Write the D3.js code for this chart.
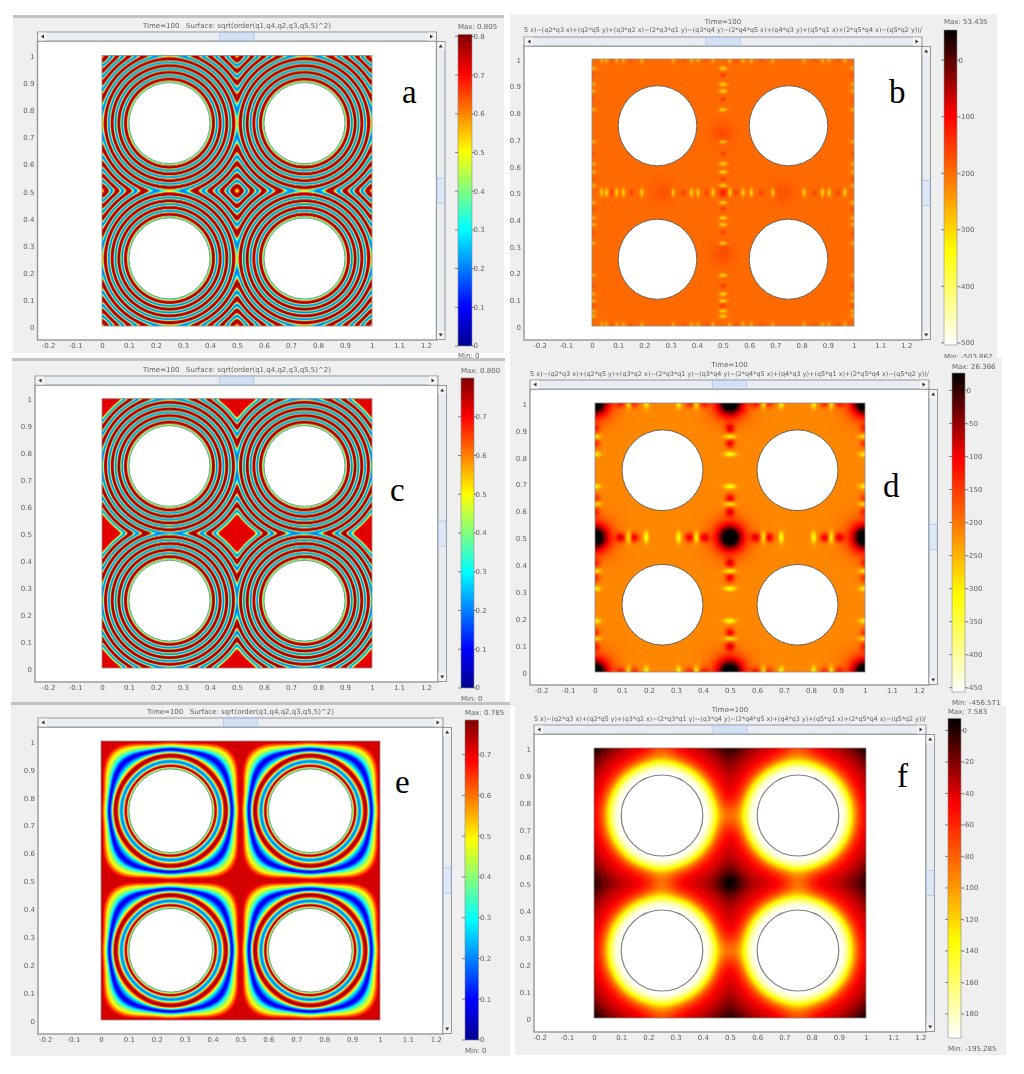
<!DOCTYPE html>
<html>
<head>
<meta charset="utf-8">
<title>Order parameter and free energy panels</title>
<script src="https://cdn.jsdelivr.net/npm/d3@7"></script>
<style>
  html, body { margin: 0; padding: 0; background: #fff; }
  svg { display: block; }
  text { font-family: "DejaVu Sans", sans-serif; fill: #5f5f5f; }
  .letter { font-family: "Liberation Serif", serif; font-size: 33px; fill: #000; }
  .domain { display: none; }
</style>
</head>
<body>
<div id="chart"></div>
<script>
var svgWidth = 1024;
var svgHeight = 1074;

// tick labels
var xTicks = [-0.2, -0.1, 0, 0.1, 0.2, 0.3, 0.4, 0.5, 0.6, 0.7, 0.8, 0.9, 1, 1.1, 1.2];
var yTicks = [0, 0.1, 0.2, 0.3, 0.4, 0.5, 0.6, 0.7, 0.8, 0.9, 1];
var barTicksA = [0, 0.1, 0.2, 0.3, 0.4, 0.5, 0.6, 0.7, 0.8];
var barTicksC = [0, 0.1, 0.2, 0.3, 0.4, 0.5, 0.6, 0.7];
var barTicksE = [0, 0.1, 0.2, 0.3, 0.4, 0.5, 0.6, 0.7];
var barTicksB = [0, -100, -200, -300, -400, -500];
var barTicksD = [0, -50, -100, -150, -200, -250, -300, -350, -400, -450];
var barTicksF = [0, -20, -40, -60, -80, -100, -120, -140, -160, -180];

// colour maps
var jetStops = [0, 0.125, 0.375, 0.625, 0.875, 1];
var jetColors = ["#00008f", "#0000ff", "#00ffff", "#ffff00", "#ff0000", "#800000"];
var hotStops = [0, 0.27, 0.7, 1];
var hotColors = ["#000000", "#ff0000", "#ffff00", "#ffffff"];

// the four holes
var holeCentres = [0.25, 0.75];
var mirrorCentres = [-0.25, 0.25, 0.75, 1.25];
var holeRadius = 0.15;

// one stripe period of the order parameter, peak to peak
var stripePhase = [0, 0.1, 0.2, 0.3, 0.4, 0.5, 0.6, 0.7, 0.8, 0.9, 1];
var stripeValue = [0.79, 0.77, 0.68, 0.42, 0.24, 0.19, 0.24, 0.42, 0.68, 0.77, 0.79];
var edgeRadius = [0.15, 0.155, 0.158, 0.163];
var edgeValue = [0.36, 0.38, 0.7, 0.79];
var firstPeakA = 0.163, periodA = 0.0247, softnessA = 130;
var firstPeakC = 0.163, periodC = 0.02455, softnessC = 200;
var lastTroughC = 0.298, flatStartC = 0.308, flatValueC = 0.72;

// panel e, ring profile on the axis through a hole centre
var radiusE = [0.148, 0.154, 0.157, 0.161, 0.166, 0.171, 0.177, 0.182, 0.188, 0.194, 0.2, 0.205, 0.211, 0.218, 0.223, 0.227, 0.231, 0.236, 0.241, 0.248];
var valueE = [0.36, 0.38, 0.66, 0.77, 0.6, 0.27, 0.18, 0.27, 0.58, 0.73, 0.78, 0.62, 0.3, 0.07, 0.12, 0.26, 0.4, 0.5, 0.6, 0.72];
// same rings measured on the diagonal, they bulge into rounded squares
var axisKnotsE = [0.15, 0.2, 0.205, 0.211, 0.218, 0.223, 0.227, 0.236, 0.248, 0.3];
var diagKnotsE = [0.15, 0.198, 0.205, 0.218, 0.238, 0.247, 0.256, 0.282, 0.305, 0.36];

// panel f, distance from hole centre -> free energy
var radiusF = [0.15, 0.165, 0.18, 0.193, 0.205, 0.215, 0.23, 0.25, 0.28, 0.32, 0.3536];
var valueF = [-195, -190, -170, -140, -110, -85, -62, -45, -34, -14, 7];
var gapSpotsF = [[0.5, 0.75, -30, 0.035], [0.5, 0.25, -30, 0.035], [0.25, 0.5, -30, 0.035], [0.75, 0.5, -30, 0.035],
  [0.25, 1, -25, 0.04], [0.75, 1, -25, 0.04], [0.25, 0, -25, 0.04], [0.75, 0, -25, 0.04], [0.5, 0.5, 14, 0.03]];

// panel d, spots along the mid lines and the outer edges
var baseD = -214;
var yellowD = [0.125, 0.19, 0.31, 0.375, 0.625, 0.69, 0.81, 0.875];
var redD = [0.095, 0.145, 0.35, 0.405, 0.595, 0.645, 0.85, 0.905];
var junctionsD = [0, 0.5, 1];

// panel b, smaller speckles along the same lines
var baseB = -197;
var specklesB = [0.037, 0.056, 0.075, 0.094, 0.12, 0.15, 0.19, 0.31, 0.35, 0.38, 0.405, 0.437, 0.462,
  0.526, 0.55, 0.577, 0.608, 0.646, 0.69, 0.81, 0.85, 0.88, 0.905, 0.94, 0.965];
var gapSpotsB = [[0.5, 0.72, 28, 0.03], [0.5, 0.27, 28, 0.03], [0.27, 0.5, 22, 0.03], [0.73, 0.5, 22, 0.03], [0.5, 0.5, 70, 0.012]];

var orderTitle = "Time=100   Surface: sqrt(order(q1,q4,q2,q3,q5,5)^2)";
var energyTitle = "5 x)−(q2*q3 x)+(q2*q5 y)+(q3*q2 x)−(2*q3*q1 y)−(q3*q4 y)−(2*q4*q5 x)+(q4*q3 y)+(q5*q1 x)+(2*q5*q4 x)−(q5*q2 y))/";

var svg = d3.select("#chart").append("svg")
  .attr("width", svgWidth)
  .attr("height", svgHeight);

var defs = svg.append("defs");
defs.append("filter").attr("id", "soft").append("feGaussianBlur").attr("stdDeviation", 0.55);
defs.append("filter").attr("id", "stripes").append("feGaussianBlur").attr("stdDeviation", 0.5);
defs.append("filter").attr("id", "softText").append("feGaussianBlur").attr("stdDeviation", 0.22);

// nearest hole distance, rounded where two holes meet
function softDistance(x, y, centres, k) {
  var rs = [];
  var rMin = Infinity;
  centres.forEach(function(cx) {
    centres.forEach(function(cy) {
      var r = Math.hypot(x - cx, y - cy);
      rs.push(r);
      if (r < rMin) rMin = r;
    });
  });
  var sum = 0;
  rs.forEach(function(r) { sum += Math.exp(-k * (r - rMin)); });
  return { hard: rMin, soft: rMin - Math.log(sum) / k };
}

function stripeField(firstPeak, period, softness, lastTrough, flatStart, flatValue) {
  var stripe = d3.scaleLinear().domain(stripePhase).range(stripeValue);
  var edge = d3.scaleLinear().domain(edgeRadius).range(edgeValue);
  var tail = lastTrough ? d3.scaleLinear().domain([lastTrough, flatStart]).range([0.19, flatValue]).clamp(true) : null;
  return function(x, y) {
    var d = softDistance(x, y, mirrorCentres, softness);
    if (d.hard < holeRadius) return null;
    if (d.soft < firstPeak) return edge(d.soft);
    if (tail && d.soft > lastTrough) return tail(d.soft);
    var phase = ((d.soft - firstPeak) / period) % 1;
    return stripe(phase);
  };
}

function ringFieldE() {
  var profile = d3.scaleLinear().domain(radiusE).range(valueE).clamp(true);
  return function(x, y) {
    var dx = Math.abs(x - (x < 0.5 ? 0.25 : 0.75));
    var dy = Math.abs(y - (y < 0.5 ? 0.25 : 0.75));
    var r = Math.hypot(dx, dy);
    if (r < holeRadius) return null;
    // how far this direction is from the axis towards the diagonal
    var c = dx / r, s = dy / r;
    var w = Math.pow((1 - Math.pow(c * c * c * c + s * s * s * s, 0.25)) / 0.159, 1.5);
    var prev = axisKnotsE[0] + (diagKnotsE[0] - axisKnotsE[0]) * w;
    for (var i = 1; i < axisKnotsE.length; i++) {
      var next = axisKnotsE[i] + (diagKnotsE[i] - axisKnotsE[i]) * w;
      if (r <= next) {
        var t = (r - prev) / (next - prev);
        return profile(axisKnotsE[i - 1] + t * (axisKnotsE[i] - axisKnotsE[i - 1]));
      }
      prev = next;
    }
    return profile(1);
  };
}

function ringFieldF() {
  var profile = d3.scaleLinear().domain(radiusF).range(valueF).clamp(true);
  return function(x, y) {
    var d = softDistance(x, y, holeCentres, 60);
    if (d.hard < holeRadius) return null;
    var v = profile(d.soft);
    gapSpotsF.forEach(function(p) {
      var dd = (x - p[0]) * (x - p[0]) + (y - p[1]) * (y - p[1]);
      v += p[2] * Math.exp(-dd / (2 * p[3] * p[3]));
    });
    return v;
  };
}

// spots sit on a line, sa along it and sc across it
function lineSpots(positions, lines, amp, sa, sc, edgeFactor) {
  var out = [];
  lines.forEach(function(l) {
    var a = l === 0.5 ? amp : amp * edgeFactor;
    positions.forEach(function(p) {
      out.push({ x: p, y: l, a: a, sx: sa, sy: sc });
      out.push({ x: l, y: p, a: a, sx: sc, sy: sa });
    });
  });
  return out;
}

function spotField(base, spots) {
  return function(x, y) {
    var rMin = Infinity;
    holeCentres.forEach(function(cx) {
      holeCentres.forEach(function(cy) {
        rMin = Math.min(rMin, Math.hypot(x - cx, y - cy));
      });
    });
    if (rMin < holeRadius) return null;
    var v = base;
    for (var i = 0; i < spots.length; i++) {
      var s = spots[i];
      var ex = (x - s.x) / s.sx, ey = (y - s.y) / s.sy;
      if (Math.abs(ex) > 4 || Math.abs(ey) > 4) continue;
      v += s.a * Math.exp(-0.5 * (ex * ex + ey * ey));
    }
    return v;
  };
}

var edgeLines = [0, 0.5, 1];
var spotsD = lineSpots(yellowD, edgeLines, -110, 0.0065, 0.015, 0.9)
  .concat(lineSpots(redD, edgeLines, 115, 0.012, 0.012, 0.7));
junctionsD.forEach(function(a) {
  junctionsD.forEach(function(b) {
    spotsD.push({ x: a, y: b, a: 250, sx: 0.034, sy: 0.034 });
    spotsD.push({ x: a, y: b, a: 45, sx: 0.06, sy: 0.06 });
  });
});

var spotsB = lineSpots(specklesB.filter(function(d, i) { return i % 3 !== 2; }), edgeLines, -105, 0.0048, 0.01, 0.75)
  .concat(lineSpots(specklesB.filter(function(d, i) { return i % 3 === 2; }), edgeLines, 45, 0.006, 0.007, 0.7));
gapSpotsB.forEach(function(p) {
  spotsB.push({ x: p[0], y: p[1], a: p[2], sx: p[3], sy: p[3] });
});

var panels = [
  { letter: "a", letterPos: [402, 103], bg: [13, 15, 504, 353], topLine: true,
    plot: [102, 372, 326, 55.5], frame: [37.5, 436.5, 41, 340], titleY: [28], titleX: [143, 331],
    bar: [458, 472, 346, 34.5], range: [0, 0.805], barTicks: barTicksA, maxText: "Max: 0.805", minText: "Min: 0", maxY: 29, minY: 358,
    map: "jet", blur: "stripes", title: orderTitle, field: stripeField(firstPeakA, periodA, softnessA) },
  { letter: "b", letterPos: [889, 103], bg: [510, 14, 997, 360], topLine: false,
    plot: [592, 854, 326, 59], frame: [524, 922, 46, 340], titleY: [24, 32], titleX: [524, 922],
    bar: [944, 957, 345, 30], range: [-503.862, 53.435], barTicks: barTicksB, maxText: "Max: 53.435", minText: "Min: -503.862", maxY: 24, minY: 359,
    map: "hot", blur: "soft", title: energyTitle, field: spotField(baseB, spotsB) },
  { letter: "c", letterPos: [390, 501], bg: [12, 358, 505, 702], topLine: true,
    plot: [102, 372, 668, 398.7], frame: [35, 438, 385, 682], titleY: [372], titleX: [143, 331],
    bar: [461, 474, 688, 378], range: [0, 0.8], barTicks: barTicksC, maxText: "Max: 0.800", minText: "Min: 0", maxY: 373, minY: 701,
    map: "jet", blur: "stripes", title: orderTitle, field: stripeField(firstPeakC, periodC, softnessC, lastTroughC, flatStartC, flatValueC) },
  { letter: "d", letterPos: [883, 497], bg: [510, 358, 1002, 706], topLine: false,
    plot: [595, 865, 672, 403], frame: [530, 929, 389, 685], titleY: [367, 376], titleX: [530, 929],
    bar: [952, 965, 692, 373], range: [-456.571, 26.366], barTicks: barTicksD, maxText: "Max: 26.366", minText: "Min: -456.571", maxY: 369, minY: 705,
    map: "hot", blur: "soft", title: energyTitle, field: spotField(baseD, spotsD) },
  { letter: "e", letterPos: [395, 793], bg: [11, 702, 510, 1056], topLine: true,
    plot: [101, 380, 1020, 741], frame: [38, 443, 727, 1034], titleY: [714], titleX: [147, 334],
    bar: [465, 478.5, 1040, 720], range: [0, 0.785], barTicks: barTicksE, maxText: "Max: 0.785", minText: "Min: 0", maxY: 715, minY: 1053,
    map: "jet", blur: "soft", title: orderTitle, field: ringFieldE() },
  { letter: "f", letterPos: [897, 787], bg: [515, 706, 1006, 1055], topLine: false,
    plot: [594, 866, 1018, 748], frame: [534, 926, 734, 1032], titleY: [712, 721], titleX: [534, 926],
    bar: [948, 961, 1038, 718.5], range: [-195.285, 7.583], barTicks: barTicksF, maxText: "Max: 7.583", minText: "Min: -195.285", maxY: 714, minY: 1051,
    map: "hot", blur: "soft", title: energyTitle, field: ringFieldF() }
];

// lookup table so each pixel does not parse a colour string
function makeLut(stops, colors) {
  var scale = d3.scaleLinear().domain(stops).range(colors).clamp(true);
  return d3.range(1024).map(function(i) {
    var c = d3.rgb(scale(i / 1023));
    return [c.r, c.g, c.b];
  });
}
var jetLut = makeLut(jetStops, jetColors);
var hotLut = makeLut(hotStops, hotColors);

function fieldImage(p, xScale, yScale) {
  var res = 2;
  var w = Math.round((p.plot[1] - p.plot[0]) * res);
  var h = Math.round((p.plot[2] - p.plot[3]) * res);
  var canvas = document.createElement("canvas");
  canvas.width = w;
  canvas.height = h;
  var ctx = canvas.getContext("2d");
  var img = ctx.createImageData(w, h);
  var lut = p.map === "jet" ? jetLut : hotLut;
  // jet runs upward, the hot map has black at the maximum
  var frac = p.map === "jet"
    ? d3.scaleLinear().domain(p.range).range([0, 1]).clamp(true)
    : d3.scaleLinear().domain(p.range).range([1, 0]).clamp(true);
  for (var j = 0; j < h; j++) {
    var y = yScale.invert(p.plot[3] + (j + 0.5) / res);
    for (var i = 0; i < w; i++) {
      var x = xScale.invert(p.plot[0] + (i + 0.5) / res);
      var v = p.field(x, y);
      var k = 4 * (j * w + i);
      if (v === null) {
        img.data[k] = img.data[k + 1] = img.data[k + 2] = 255;
      } else {
        var c = lut[Math.round(frac(v) * 1023)];
        img.data[k] = c[0];
        img.data[k + 1] = c[1];
        img.data[k + 2] = c[2];
      }
      img.data[k + 3] = 255;
    }
  }
  ctx.putImageData(img, 0, 0);
  return canvas.toDataURL("image/png");
}

function drawScrollBars(g, p) {
  var f = p.frame;
  var barColor = "#8f979f";
  // top bar
  g.append("rect").attr("x", f[0]).attr("y", f[2] - 9).attr("width", f[1] - f[0]).attr("height", 9)
    .attr("fill", "#e9edf2").attr("stroke", barColor).attr("stroke-width", 1);
  var mid = (f[0] + f[1]) / 2;
  g.append("rect").attr("x", mid - 17).attr("y", f[2] - 8.5).attr("width", 34).attr("height", 8)
    .attr("fill", "#d4e0f3").attr("stroke", "#a9bede").attr("stroke-width", 0.7);
  [f[0] + 5, f[1] - 5].forEach(function(x, i) {
    g.append("rect").attr("x", x - 4).attr("y", f[2] - 8.5).attr("width", 8).attr("height", 8).attr("fill", "#f5f5f5");
    var d = i === 0 ? -1 : 1;
    g.append("path")
      .attr("d", d3.line()([[x + d * 1.5, f[2] - 4.5], [x - d * 1.5, f[2] - 6.5], [x - d * 1.5, f[2] - 2.5]]))
      .attr("fill", "#333");
  });
  // right bar
  g.append("rect").attr("x", f[1]).attr("y", f[2] + 0.5).attr("width", 8.5).attr("height", f[3] - f[2] - 1)
    .attr("fill", "#e9edf2").attr("stroke", barColor).attr("stroke-width", 1);
  var midY = (f[2] + f[3]) / 2;
  g.append("rect").attr("x", f[1] + 0.5).attr("y", midY - 12.5).attr("width", 7.5).attr("height", 25)
    .attr("fill", "#dde7f6").attr("stroke", "#a9bede").attr("stroke-width", 0.7);
  [f[2] + 5, f[3] - 5].forEach(function(y, i) {
    g.append("rect").attr("x", f[1] + 0.5).attr("y", y - 4).attr("width", 7.5).attr("height", 8).attr("fill", "#f5f5f5");
    var d = i === 0 ? -1 : 1;
    g.append("path")
      .attr("d", d3.line()([[f[1] + 4.2, y + d * 1.5], [f[1] + 2.2, y - d * 1.5], [f[1] + 6.2, y - d * 1.5]]))
      .attr("fill", "#333");
  });
}

function drawColorBar(g, p) {
  var b = p.bar;
  var gid = "grad-" + p.letter;
  // bottom of the bar is offset 0
  var grad = defs.append("linearGradient").attr("id", gid)
    .attr("x1", 0).attr("x2", 0).attr("y1", 1).attr("y2", 0);
  if (p.map === "jet") {
    jetStops.forEach(function(s, i) {
      grad.append("stop").attr("offset", s).attr("stop-color", jetColors[i]);
    });
  } else {
    // hot map: white at the minimum, black at the maximum
    d3.range(hotStops.length - 1, -1, -1).forEach(function(i) {
      grad.append("stop").attr("offset", 1 - hotStops[i]).attr("stop-color", hotColors[i]);
    });
  }
  g.append("rect").attr("x", b[0]).attr("y", b[3]).attr("width", b[1] - b[0]).attr("height", b[2] - b[3])
    .attr("fill", "url(#" + gid + ")").attr("stroke", "#888").attr("stroke-width", 0.6);

  var barScale = d3.scaleLinear().domain(p.range).range([b[2], b[3]]);
  var ticks = g.selectAll(".bar-tick").data(p.barTicks).enter().append("g")
    .attr("class", "bar-tick")
    .attr("transform", function(d) { return "translate(0," + barScale(d) + ")"; });
  ticks.append("line").attr("x1", b[0] - 3).attr("x2", b[0]).attr("stroke", "#555").attr("stroke-width", 0.7);
  ticks.append("line").attr("x1", b[1]).attr("x2", b[1] + 2.5).attr("stroke", "#555").attr("stroke-width", 0.7);
  ticks.append("text").attr("x", b[1] + 1.5).attr("dy", "0.35em").attr("font-size", 7)
    .attr("filter", "url(#softText)")
    .text(function(d) { return d; });

  g.append("text").attr("x", b[0]).attr("y", p.maxY).attr("font-size", 7).attr("filter", "url(#softText)").text(p.maxText);
  g.append("text").attr("x", b[0]).attr("y", p.minY).attr("font-size", 7).attr("filter", "url(#softText)").text(p.minText);
}

function drawPanel(p) {
  var g = svg.append("g").attr("class", "panel-" + p.letter);

  g.append("rect").attr("x", p.bg[0]).attr("y", p.bg[1]).attr("width", p.bg[2] - p.bg[0]).attr("height", p.bg[3] - p.bg[1])
    .attr("fill", "#efefef");
  if (p.topLine) {
    g.append("rect").attr("x", p.bg[0]).attr("y", p.bg[1]).attr("width", p.bg[2] - p.bg[0]).attr("height", 3)
      .attr("fill", "#c2c2c2");
  }

  g.append("rect").attr("x", p.frame[0]).attr("y", p.frame[2]).attr("width", p.frame[1] - p.frame[0]).attr("height", p.frame[3] - p.frame[2])
    .attr("fill", "#fff").attr("stroke", "#8f979f").attr("stroke-width", 1.4);
  drawScrollBars(g, p);

  var xScale = d3.scaleLinear().domain([0, 1]).range([p.plot[0], p.plot[1]]);
  var yScale = d3.scaleLinear().domain([0, 1]).range([p.plot[2], p.plot[3]]);

  g.append("image")
    .attr("x", p.plot[0]).attr("y", p.plot[3])
    .attr("width", p.plot[1] - p.plot[0]).attr("height", p.plot[2] - p.plot[3])
    .attr("preserveAspectRatio", "none")
    .attr("href", fieldImage(p, xScale, yScale))
    .attr("filter", "url(#" + p.blur + ")");

  g.append("rect").attr("x", p.plot[0]).attr("y", p.plot[3]).attr("width", p.plot[1] - p.plot[0]).attr("height", p.plot[2] - p.plot[3])
    .attr("fill", "none").attr("stroke", "#8a8a8a").attr("stroke-width", 0.8);

  // hole outlines: thin and dark on the energy panels, grey green on the order panels
  holeCentres.forEach(function(cx) {
    holeCentres.forEach(function(cy) {
      g.append("ellipse")
        .attr("cx", xScale(cx)).attr("cy", yScale(cy))
        .attr("rx", xScale(holeRadius) - xScale(0)).attr("ry", yScale(0) - yScale(holeRadius))
        .attr("fill", "none")
        .attr("stroke", p.map === "jet" ? "#7d9c84" : (p.letter === "f" ? "#808080" : "#5f5048"))
        .attr("stroke-width", p.map === "jet" ? 1 : (p.letter === "f" ? 1.2 : 0.9));
    });
  });

  var bottomAxis = d3.axisBottom(xScale).tickValues(xTicks).tickSize(0).tickPadding(3).tickFormat(function(d) { return d; });
  g.append("g").attr("transform", "translate(0," + p.frame[3] + ")").call(bottomAxis)
    .attr("font-family", null).attr("font-size", null)
    .selectAll("text").attr("font-size", 7).attr("filter", "url(#softText)");

  var leftAxis = d3.axisLeft(yScale).tickValues(yTicks).tickSize(0).tickPadding(3).tickFormat(function(d) { return d; });
  g.append("g").attr("transform", "translate(" + (p.frame[0]) + ",1)").call(leftAxis)
    .attr("font-family", null).attr("font-size", null)
    .selectAll("text").attr("font-size", 7).attr("filter", "url(#softText)");

  // titles
  if (p.titleY.length === 1) {
    g.append("text").attr("x", p.titleX[0]).attr("y", p.titleY[0])
      .attr("font-size", 7).attr("textLength", p.titleX[1] - p.titleX[0]).attr("lengthAdjust", "spacingAndGlyphs")
      .attr("filter", "url(#softText)").style("white-space", "pre").text(p.title);
  } else {
    g.append("text").attr("x", (p.titleX[0] + p.titleX[1]) / 2).attr("y", p.titleY[0])
      .attr("font-size", 7).attr("text-anchor", "middle").attr("filter", "url(#softText)").text("Time=100");
    g.append("text").attr("x", p.titleX[0]).attr("y", p.titleY[1])
      .attr("font-size", 6.4).attr("textLength", p.titleX[1] - p.titleX[0]).attr("lengthAdjust", "spacingAndGlyphs")
      .attr("filter", "url(#softText)").text(p.title);
  }

  drawColorBar(g, p);

  g.append("text").attr("class", "letter").attr("x", p.letterPos[0]).attr("y", p.letterPos[1]).text(p.letter);
}

panels.forEach(drawPanel);
</script>
</body>
</html>
